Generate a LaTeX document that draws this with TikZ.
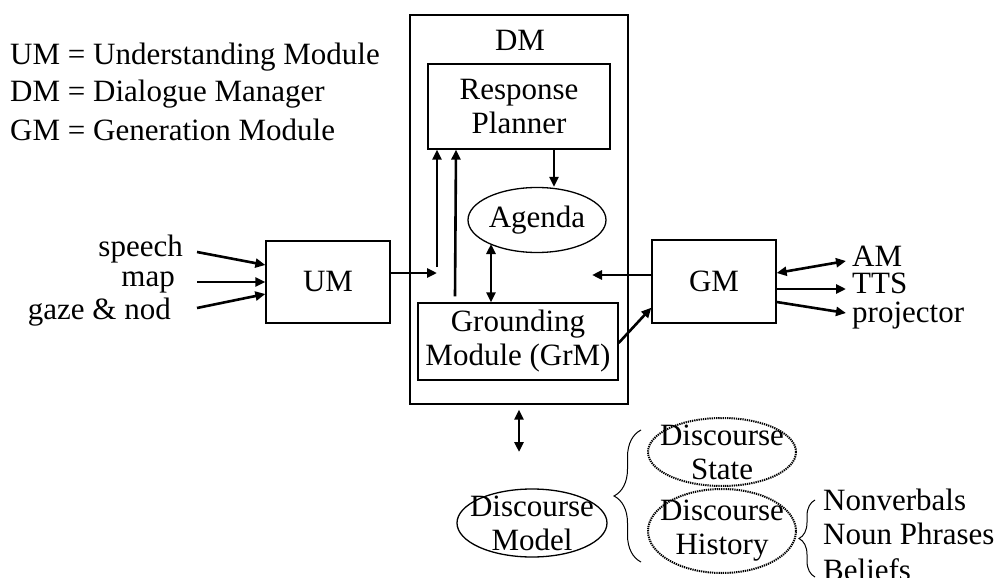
\documentclass[tikz,border=0pt]{standalone}
\usepackage{fontspec}
\setmainfont{Liberation Serif}
\usetikzlibrary{arrows.meta, shapes, decorations.pathreplacing}

\begin{document}
\begin{tikzpicture}[x=1pt, y=-1pt, font=\fontsize{31}{34}\selectfont,
    box/.style={rectangle, draw, line width=1.3pt, inner sep=0pt, align=center},
    oval/.style={ellipse, draw, line width=1.3pt, inner sep=0pt},
    dotoval/.style={ellipse, draw, line width=2pt, dash pattern=on 1.3pt off 0.9pt, inner sep=0pt},
    txt/.style={inner sep=0pt, align=center}]
\useasboundingbox (0,0) rectangle (1002,578);

% legend
\begin{scope}[every node/.style={anchor=base west, inner sep=0pt}]
  \node (legUM) at (10,65) {UM = Understanding Module};
  \node (legDM) at (10,102) {DM = Dialogue Manager};
  \node (legGM) at (10,140) {GM = Generation Module};
\end{scope}

% modules
\node[box, minimum width=218pt, minimum height=389pt] (DM) at (519,209.5) {};
\node[txt] (DMlabel) at (520,40) {DM};
\node[box, minimum width=182pt, minimum height=85pt] (RP) at (519,106.5) {Response\\Planner};
\node[oval, minimum width=138pt, minimum height=65pt,
      label={[txt]center:Agenda}] (agenda) at (537,220) {};
\node[box, minimum width=200pt, minimum height=77pt] (GrM) at (518,341.5) {Grounding\\Module (GrM)};
\node[box, minimum width=124pt, minimum height=82pt] (UM) at (328,282) {UM};
\node[box, minimum width=124pt, minimum height=83pt] (GM) at (714,281.5) {GM};

% inputs and outputs
\begin{scope}[every node/.style={txt, anchor=east}]
  \node (speech) at (183,249) {speech};
  \node (map) at (175,282) {map};
  \node (gaze) at (171,312) {gaze \& nod};
\end{scope}
\begin{scope}[every node/.style={txt, anchor=base west}]
  \node (AM) at (852,266) {AM};
  \node (TTS) at (852,293) {TTS};
  \node (proj) at (852,322) {projector};
\end{scope}

% discourse model
\node[oval, minimum width=150pt, minimum height=68pt,
      label={[txt]center:Discourse\\Model}] (DiscModel) at (532,523) {};
\node[dotoval, minimum width=148pt, minimum height=68pt,
      label={[txt]center:Discourse\\State}] (DiscState) at (722,452) {};
\node[dotoval, minimum width=148pt, minimum height=84pt,
      label={[txt]center:Discourse\\History}] (DiscHist) at (722,531) {};
\begin{scope}[every node/.style={txt, anchor=base west}]
  \node (nonverb) at (823,510) {Nonverbals};
  \node (nouns) at (823,544) {Noun Phrases};
  \node (beliefs) at (823,580) {Beliefs};
\end{scope}

\coordinate (UMjoin) at (437,273);
\coordinate (GMjoin) at (592,275);
\coordinate (DMtip) at (519,452);
\coordinate (b1bot) at (641,562);
\coordinate (b1top) at (641,430);
\coordinate (b2bot) at (815,577);
\coordinate (b2top) at (815,500);

\begin{scope}[>={Triangle[length=10pt, width=9pt]},
              every edge/.style={draw=black, line width=2.6pt}]
    \path[->] (speech.east) ++(14,3) edge ([yshift=17pt]UM.west);
    \path[->] ([xshift=22pt]map.east |- UM.west) edge (UM.west);
    \path[->] (gaze.east) ++(26,-4) edge ([yshift=-12pt]UM.west);
    \path[->] (UM.east |- UMjoin) edge (UMjoin);
    \path[->] ([yshift=6pt]UMjoin) edge (UMjoin |- RP.south);
    \path[->] ([xshift=-63pt, yshift=6pt]GrM.north) edge ([xshift=-63pt]RP.south);
    \path[->] ([xshift=35pt]RP.south) edge ([xshift=17pt]agenda.north);
    \path[<->] ([xshift=-27pt]GrM.north) edge ([xshift=-46pt, yshift=-24pt]agenda.center);
    \path[->] ([yshift=6.5pt]GM.west) edge (GMjoin);
    \path[->] ([yshift=-1.5pt]GrM.east) edge ([yshift=16pt]GM.south west);
    \path[<->] ([yshift=8.5pt]GM.east) edge ([xshift=-6pt, yshift=5pt]AM.base west);
    \path[->] ([yshift=-7.5pt]GM.east) edge ([xshift=-6pt, yshift=4pt]TTS.base west);
    \path[->] ([yshift=-20.5pt]GM.east) edge ([xshift=-6pt, yshift=9pt]proj.base west);
    \path[<->] ([yshift=-5pt]DM.south) edge (DMtip);
\end{scope}

% braces
\begin{scope}[line width=1pt]
    \draw[decorate, decoration={brace, amplitude=27pt}] (b1bot) -- (b1top);
    \draw[decorate, decoration={brace, amplitude=16pt}] (b2bot) -- (b2top);
\end{scope}

\end{tikzpicture}
\end{document}
